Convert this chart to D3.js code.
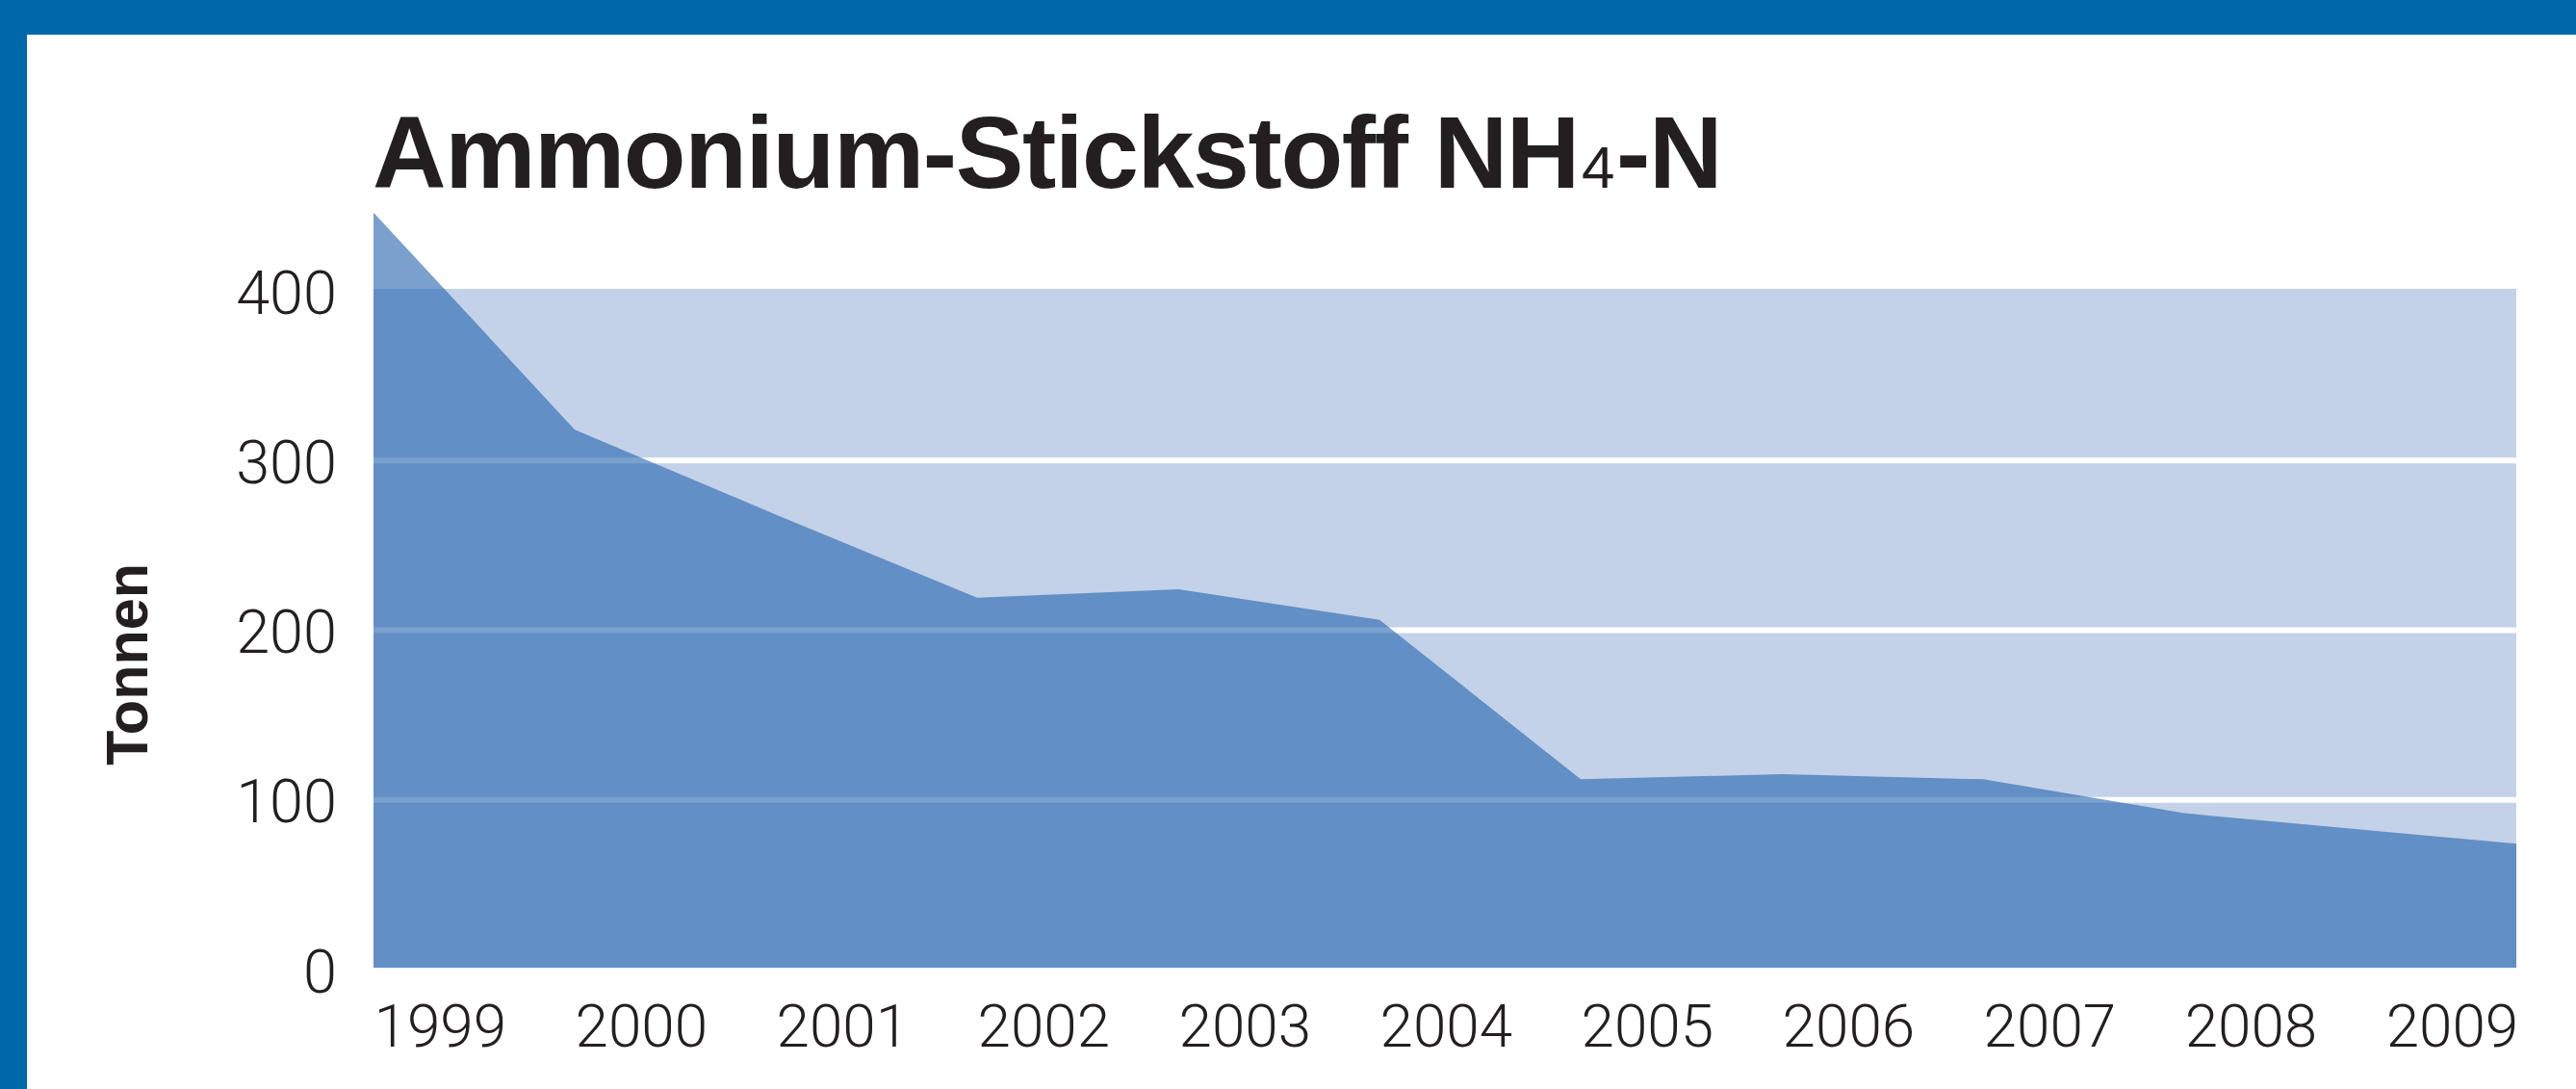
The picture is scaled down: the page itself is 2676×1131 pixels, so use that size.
<!DOCTYPE html>
<html>
<head>
<meta charset="utf-8">
<script src="https://cdn.jsdelivr.net/npm/d3@7"></script>
<style>
  html, body { margin: 0; padding: 0; background: #ffffff; }
  svg { display: block; }
</style>
</head>
<body>
<svg id="chart" width="2676" height="1131"></svg>
<script>
// ---- data ----
const years = [1999, 2000, 2001, 2002, 2003, 2004, 2005, 2006, 2007, 2008, 2009];
const values = [445, 317, 267, 218, 223, 205, 111, 114, 111, 91, 73];
const yTicks = [0, 100, 200, 300, 400];
const gridValues = [100, 200, 300];
const xLabels = ["1999", "2000", "2001", "2002", "2003", "2004", "2005", "2006", "2007", "2008", "2009"];
const titleMain = "Ammonium-Stickstoff NH";
const titleSub = "4";
const titleEnd = "-N";
const yTitle = "Tonnen";

// ---- layout ----
const W = 2676, H = 1131;
const frameColor = "#0067AB";
const plotLeft = 388, plotRight = 2614, plotTop = 300, plotBottom = 1005;

const svg = d3.select("#chart");

// frame
svg.append("rect").attr("x", 0).attr("y", 0).attr("width", W).attr("height", 36).attr("fill", frameColor);
svg.append("rect").attr("x", 0).attr("y", 0).attr("width", 28).attr("height", H).attr("fill", frameColor);

// scales
const x = d3.scaleLinear().domain([1999, 2009.65]).range([plotLeft, plotRight]);
const y = d3.scaleLinear().domain([0, 400]).range([plotBottom, plotTop]);

// background band (0..400)
svg.append("rect")
  .attr("x", x.range()[0]).attr("y", y(400))
  .attr("width", x.range()[1] - x.range()[0]).attr("height", y(0) - y(400))
  .attr("fill", "#C3D2E8");

// gridlines
svg.append("g").selectAll("line").data(gridValues).join("line")
  .attr("x1", x.range()[0]).attr("x2", x.range()[1])
  .attr("y1", d => y(d) + 2).attr("y2", d => y(d) + 2)
  .attr("stroke", "#ffffff").attr("stroke-width", 6);

// area
const data = years.map((yr, i) => ({ year: yr, value: values[i] }));
const lastYear = years[years.length - 1];
const area = d3.area()
  .x(d => d.year === lastYear ? x(x.domain()[1]) : x(d.year))
  .y0(y(0))
  .y1(d => y(d.value));
svg.append("path").datum(data)
  .attr("d", area)
  .attr("fill", "rgb(33,98,173)")
  .attr("fill-opacity", 0.6);

// y axis
const yAxis = svg.append("g")
  .attr("transform", `translate(${plotLeft},0)`)
  .call(d3.axisLeft(y).tickValues(yTicks).tickSize(0).tickPadding(38));
yAxis.select(".domain").remove();
yAxis.selectAll("text")
  .attr("dy", "0.40em")
  .style("font-family", "Roboto, 'Liberation Sans', sans-serif")
  .style("font-weight", 300)
  .style("font-size", "63px")
  .attr("fill", "#231F20");

// x axis
const xAxis = svg.append("g")
  .attr("transform", `translate(0,${plotBottom})`)
  .call(d3.axisBottom(x).tickValues(years).tickSize(0).tickFormat((d, i) => xLabels[i]));
xAxis.select(".domain").remove();
xAxis.selectAll("text")
  .attr("y", 82).attr("dy", 0)
  .attr("text-anchor", "start")
  .style("font-family", "Roboto, 'Liberation Sans', sans-serif")
  .style("font-weight", 300)
  .style("font-size", "62px")
  .attr("fill", "#231F20");

// y title
svg.append("text")
  .attr("transform", "translate(153,690) rotate(-90)")
  .attr("text-anchor", "middle")
  .style("font-family", "'Liberation Sans', Arial, sans-serif")
  .style("font-weight", "bold")
  .style("font-size", "62px")
  .attr("textLength", 210).attr("lengthAdjust", "spacingAndGlyphs")
  .attr("fill", "#231F20")
  .text(yTitle);

// title
const title = svg.append("text")
  .attr("x", 387).attr("y", 195)
  .style("font-family", "'Liberation Sans', Arial, sans-serif")
  .style("font-weight", "bold")
  .style("font-size", "106px")
  .style("letter-spacing", "-1.4px")
  .attr("fill", "#231F20");
title.append("tspan").text(titleMain);
title.append("tspan").style("font-size", "62px").style("font-weight", "normal").attr("dx", 3).text(titleSub);
title.append("tspan").attr("dx", 3).text(titleEnd);
</script>
</body>
</html>
